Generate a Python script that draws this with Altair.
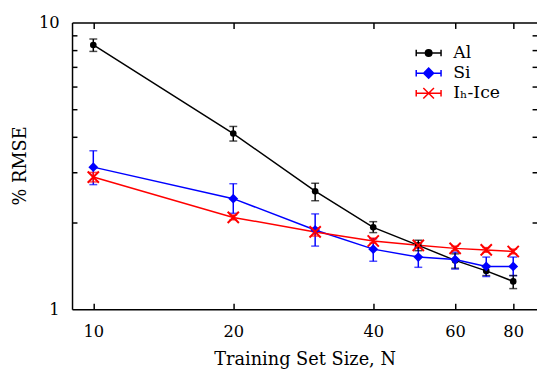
import altair as alt
import pandas as pd

# ---- data ----
sizes = [10, 20, 30, 40, 50, 60, 70, 80]
series_names = ["Al", "Si", "Iₕ-Ice"]
series_colors = ["#000000", "#0000ff", "#ff0000"]

al_rmse = [8.35, 4.10, 2.58, 1.93, 1.67, 1.48, 1.36, 1.25]
al_lo = [7.93, 3.86, 2.39, 1.85, 1.60, 1.39, 1.31, 1.18]
al_hi = [8.76, 4.34, 2.75, 2.02, 1.74, 1.56, 1.42, 1.31]

si_rmse = [3.13, 2.43, 1.89, 1.62, 1.52, 1.49, 1.41, 1.41]
si_lo = [2.72, 2.16, 1.66, 1.47, 1.40, 1.38, 1.30, 1.31]
si_hi = [3.57, 2.74, 2.15, 1.76, 1.65, 1.58, 1.52, 1.52]

ice_rmse = [2.89, 2.09, 1.86, 1.73, 1.67, 1.63, 1.61, 1.59]
ice_lo = [2.78, 2.05, 1.80, 1.70, 1.64, 1.60, 1.58, 1.56]
ice_hi = [3.00, 2.13, 1.92, 1.77, 1.70, 1.66, 1.64, 1.62]

x_tick_values = [10, 20, 40, 60, 80]
y_label_values = [1, 10]
y_minor_values = [2, 3, 4, 5, 6, 7, 8, 9]

rows = []
for name, vals, lo, hi in [
    (series_names[0], al_rmse, al_lo, al_hi),
    (series_names[1], si_rmse, si_lo, si_hi),
    (series_names[2], ice_rmse, ice_lo, ice_hi),
]:
    for n, v, l, h in zip(sizes, vals, lo, hi):
        rows.append({"N": n, "rmse": v, "lo": l, "hi": h, "series": name})
df = pd.DataFrame(rows)

FONT = "DejaVu Serif"
xscale = alt.Scale(type="log", domain=[9, 90], nice=False)
yscale = alt.Scale(type="log", domain=[1, 10], nice=False)
cscale = alt.Scale(domain=series_names, range=series_colors)
color_nolegend = alt.Color("series:N", scale=cscale, legend=None)

base = alt.Chart(df)

# main axes: frame lines + labels + titles
x_main = alt.Axis(orient="bottom", values=x_tick_values, domain=True, domainColor="black",
                  domainWidth=1.5, ticks=False, tickSize=0, labelFont=FONT, labelFontSize=16.5,
                  labelColor="black", labelPadding=15, labelFlush=False, grid=False,
                  title="Training Set Size, N", titleFont=FONT, titleFontSize=18,
                  titleFontWeight="normal", titleColor="black", titleBaseline="alphabetic",
                  titleY=56)
y_main = alt.Axis(orient="left", values=y_label_values, domain=True, domainColor="black",
                  domainWidth=1.5, ticks=False, tickSize=0, labelFont=FONT, labelFontSize=16.5,
                  labelColor="black", labelPadding=13, labelFlush=False, grid=False,
                  title="% RMSE", titleFont=FONT, titleFontSize=18, titleFontWeight="normal",
                  titleColor="black", titleBaseline="alphabetic", titleX=-47, titleY=145,
                  titleAngle=270)

lines = base.mark_line(strokeWidth=1.5).encode(
    x=alt.X("N:Q", scale=xscale, axis=x_main),
    y=alt.Y("rmse:Q", scale=yscale, axis=y_main),
    color=color_nolegend,
)

x_top_frame = alt.Axis(orient="top", domain=True, domainColor="black", domainWidth=1.5,
                       ticks=False, labels=False, grid=False, title=None)
y_right_ticks = alt.Axis(orient="right", values=y_minor_values, domain=False, ticks=True,
                         tickSize=5, tickWidth=1.5, tickColor="black", offset=-5,
                         labels=False, grid=False, title=None)

err_rules = base.mark_rule(strokeWidth=1.5).encode(
    x=alt.X("N:Q", scale=xscale, axis=x_top_frame),
    y=alt.Y("lo:Q", scale=yscale, axis=y_right_ticks),
    y2="hi:Q",
    color=color_nolegend,
)

x_bottom_ticks = alt.Axis(orient="bottom", values=x_tick_values, domain=False, ticks=True,
                          tickSize=6, tickWidth=1.5, tickColor="black", offset=-6,
                          labels=False, grid=False, title=None)
y_left_ticks = alt.Axis(orient="left", values=y_minor_values, domain=False, ticks=True,
                        tickSize=5, tickWidth=1.5, tickColor="black", offset=-5,
                        labels=False, grid=False, title=None)

caps_lo = base.mark_tick(orient="horizontal", size=8, thickness=1.5).encode(
    x=alt.X("N:Q", scale=xscale, axis=x_bottom_ticks),
    y=alt.Y("lo:Q", scale=yscale, axis=y_left_ticks),
    color=color_nolegend,
)

x_top_ticks = alt.Axis(orient="top", values=x_tick_values, domain=False, ticks=True,
                       tickSize=6, tickWidth=1.5, tickColor="black", offset=-6,
                       labels=False, grid=False, title=None)

caps_hi = base.mark_tick(orient="horizontal", size=8, thickness=1.5).encode(
    x=alt.X("N:Q", scale=xscale, axis=x_top_ticks),
    y=alt.Y("hi:Q", scale=yscale, axis=None),
    color=color_nolegend,
)

def pts(name, **kw):
    return base.transform_filter(alt.datum.series == name).mark_point(**kw).encode(
        x=alt.X("N:Q", scale=xscale, axis=None),
        y=alt.Y("rmse:Q", scale=yscale, axis=None),
        color=color_nolegend,
    )

X_PATH = "M-1,-1L1,1M-1,1L1,-1"
p_al = pts(series_names[0], shape="circle", filled=True, size=45, opacity=1)
p_si = pts(series_names[1], shape="diamond", filled=True, size=100, opacity=1)
p_ice = pts(series_names[2], shape=X_PATH, filled=False, size=130, strokeWidth=2, opacity=1)

# legend (drawn as marks): line + error caps + marker, then the label
bar = "M-2.1,0L2.1,0M-2.1,-0.55L-2.1,0.55M2.1,-0.55L2.1,0.55"
legend_paths = [
    bar + "M0.55,0A0.55,0.55,0,1,1,-0.55,0A0.55,0.55,0,1,1,0.55,0Z",
    bar + "M0,-0.85L0.85,0L0,0.85L-0.85,0Z",
    bar + "M-0.9,-0.9L0.9,0.9M-0.9,0.9L0.9,-0.9",
]
LEG_SYM_X, LEG_TXT_X, LEG_Y0, LEG_DY = 362, 387, 31, 20.4
legend_layers = []
for i, name in enumerate(series_names):
    one = base.transform_filter((alt.datum.series == name) & (alt.datum.N == sizes[0]))
    legend_layers.append(
        one.mark_point(shape=legend_paths[i], filled=True, size=144, strokeWidth=1.5,
                       fill=series_colors[i], stroke=series_colors[i], opacity=1).encode(
            x=alt.value(LEG_SYM_X), y=alt.value(LEG_Y0 + LEG_DY * i))
    )
    legend_layers.append(
        one.mark_text(align="left", baseline="middle", font=FONT, fontSize=17.5,
                      color="black").encode(
            x=alt.value(LEG_TXT_X), y=alt.value(LEG_Y0 + LEG_DY * i), text="series:N")
    )

chart = alt.layer(
    lines, err_rules, caps_lo, caps_hi, p_al, p_si, p_ice, *legend_layers
).resolve_axis(x="independent", y="independent").properties(
    width=472, height=291,
    autosize=alt.AutoSizeParams(type="none"),
    padding={"left": 65, "top": 12, "right": 0, "bottom": 61},
).configure_view(strokeWidth=0)

chart.save("out.html", embed_options={"renderer": "svg", "actions": False})
